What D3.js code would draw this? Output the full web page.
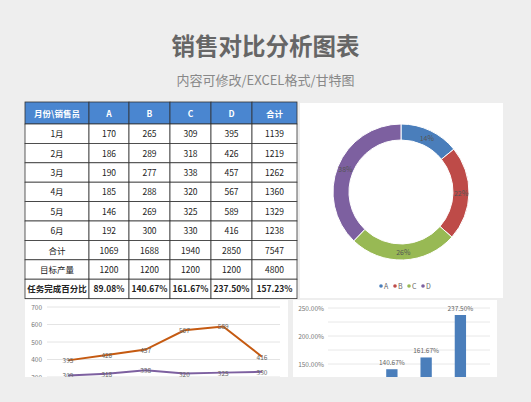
<!DOCTYPE html><html><head><meta charset="utf-8"><script src="https://cdn.jsdelivr.net/npm/d3@7"></script>
<style>body{margin:0;background:#eeeeee;font-family:"Noto Sans CJK SC","Noto Sans",sans-serif}</style></head><body>
<svg id="c" width="531" height="402"></svg>
<script>
const months=["1月","2月","3月","4月","5月","6月"];
const sellers=["A","B","C","D"];
const sA=[170,186,190,185,146,192],sB=[265,289,277,288,269,300],sC=[309,318,338,320,325,330],sD=[395,426,457,567,589,416];
const totals=[1069,1688,1940,2850,7547];
const targets=[1200,1200,1200,1200,4800];
const pct=["89.08%","140.67%","161.67%","237.50%","157.23%"];
const pctVals=[89.08,140.67,161.67,237.50];
const rowTotals=[1139,1219,1262,1360,1329,1238];
const colors=["#4a7ebb","#be4b48","#98b954","#7d60a0"];
const svg=d3.select("#c");
svg.append("text").attr("x",265.5).attr("y",55).attr("text-anchor","middle").attr("font-size",23.5).attr("font-weight","bold").attr("fill","#666").text("销售对比分析图表");
svg.append("text").attr("x",265.5).attr("y",85).attr("text-anchor","middle").attr("font-size",13).attr("fill","#888").text("内容可修改/EXCEL格式/甘特图");
// table
const colX=[25,89,129,170,211,252,297];
const rowY=d3.range(11).map(i=>i==0?102:124+(i-1)*19.4);
const header=["月份\\销售员","A","B","C","D","合计"];
const rows=months.map((m,i)=>[m,sA[i],sB[i],sC[i],sD[i],rowTotals[i]]);
rows.push(["合计",...totals]);rows.push(["目标产量",...targets]);rows.push(["任务完成百分比",...pct]);
const all=[header,...rows];
const t=svg.append("g");
all.forEach((r,ri)=>r.forEach((v,ci)=>{
 const x=colX[ci],w=colX[ci+1]-x,y=rowY[ri],h=rowY[ri+1]-y;
 t.append("rect").attr("x",x).attr("y",y).attr("width",w).attr("height",h).attr("fill",ri==0?"#4a86d0":"#fff").attr("stroke","#333").attr("stroke-width",0.8);
 t.append("text").attr("x",x+w/2).attr("y",y+h/2+3.5).attr("text-anchor","middle").attr("font-size",8.5).attr("font-weight",(ri==0||ri==9)?"bold":"normal").attr("fill",ri==0?"#fff":"#222").text(v);
}));
// donut panel
svg.append("rect").attr("x",300).attr("y",103).attr("width",203).attr("height",195).attr("fill","#fff");
const sums=[totals[0],totals[1],totals[2],totals[3]];
const pie=d3.pie().sort(null)(sums);
const arc=d3.arc().innerRadius(52).outerRadius(68);
const dg=svg.append("g").attr("transform","translate(401,192)");
dg.selectAll("path").data(pie).join("path").attr("d",arc).attr("fill",(d,i)=>colors[i]).attr("stroke","#fff").attr("stroke-width",1);
const tot=d3.sum(sums);
dg.selectAll("text").data(pie).join("text").attr("transform",d=>`translate(${arc.centroid(d)})`).attr("text-anchor","middle").attr("dy",3).attr("font-size",7).attr("fill","#555").text(d=>Math.round(d.value/tot*100)+"%");
const lg=svg.append("g");
sellers.forEach((s,i)=>{const x=381+i*14;lg.append("circle").attr("cx",x).attr("cy",286).attr("r",1.8).attr("fill",colors[i]);lg.append("text").attr("x",x+3).attr("y",289).attr("font-size",7).attr("fill","#666").text(s);});
// line panel
const clip=svg.append("defs");
clip.append("clipPath").attr("id","cl").append("rect").attr("x",25).attr("y",300).attr("width",263).attr("height",77);
clip.append("clipPath").attr("id","cb").append("rect").attr("x",293).attr("y",300).attr("width",204).attr("height",77);
svg.append("rect").attr("x",25).attr("y",300).attr("width",263).attr("height",77).attr("fill","#fff");
const lgp=svg.append("g").attr("clip-path","url(#cl)");
const x=d3.scalePoint().domain(months).range([68,262]);
const y=d3.scaleLinear().domain([300,700]).range([377,307]);
[300,400,500,600,700].forEach(v=>{lgp.append("line").attr("x1",47).attr("x2",280).attr("y1",y(v)).attr("y2",y(v)).attr("stroke","#e4e4e4");lgp.append("text").attr("x",42).attr("y",y(v)+2.5).attr("text-anchor","end").attr("font-size",6.5).attr("fill","#777").text(v);});
[[sC,"#7d60a0"],[sD,"#c55a11"]].forEach(([s,c])=>{
 lgp.append("path").attr("d",d3.line().x((d,i)=>x(months[i])).y(d=>y(d))(s)).attr("fill","none").attr("stroke",c).attr("stroke-width",2);
 s.forEach((v,i)=>lgp.append("text").attr("x",x(months[i])).attr("y",y(v)+3).attr("text-anchor","middle").attr("font-size",6.5).attr("fill","#666").text(v));
});
// bar panel
svg.append("rect").attr("x",293).attr("y",300).attr("width",204).attr("height",77).attr("fill","#fff");
const bg=svg.append("g").attr("clip-path","url(#cb)");
const xb=d3.scaleBand().domain(sellers).range([329,489]).padding(0.67);
const yb=d3.scaleLinear().domain([150,250]).range([364,308]);
[150,175,200,225,250].forEach(v=>bg.append("line").attr("x1",328).attr("x2",490).attr("y1",yb(v)).attr("y2",yb(v)).attr("stroke","#e8e8e8"));
[150,200,250].forEach(v=>bg.append("text").attr("x",324).attr("y",yb(v)+2.5).attr("text-anchor","end").attr("font-size",6.5).attr("fill","#777").text(v.toFixed(2)+"%"));
pctVals.forEach((v,i)=>{
 bg.append("rect").attr("x",xb(sellers[i])).attr("y",yb(v)).attr("width",xb.bandwidth()).attr("height",400-yb(v)).attr("fill","#4a7ebb");
 bg.append("text").attr("x",xb(sellers[i])+xb.bandwidth()/2).attr("y",yb(v)-4).attr("text-anchor","middle").attr("font-size",6.5).attr("fill","#666").text(v.toFixed(2)+"%");
});
</script></body></html>
